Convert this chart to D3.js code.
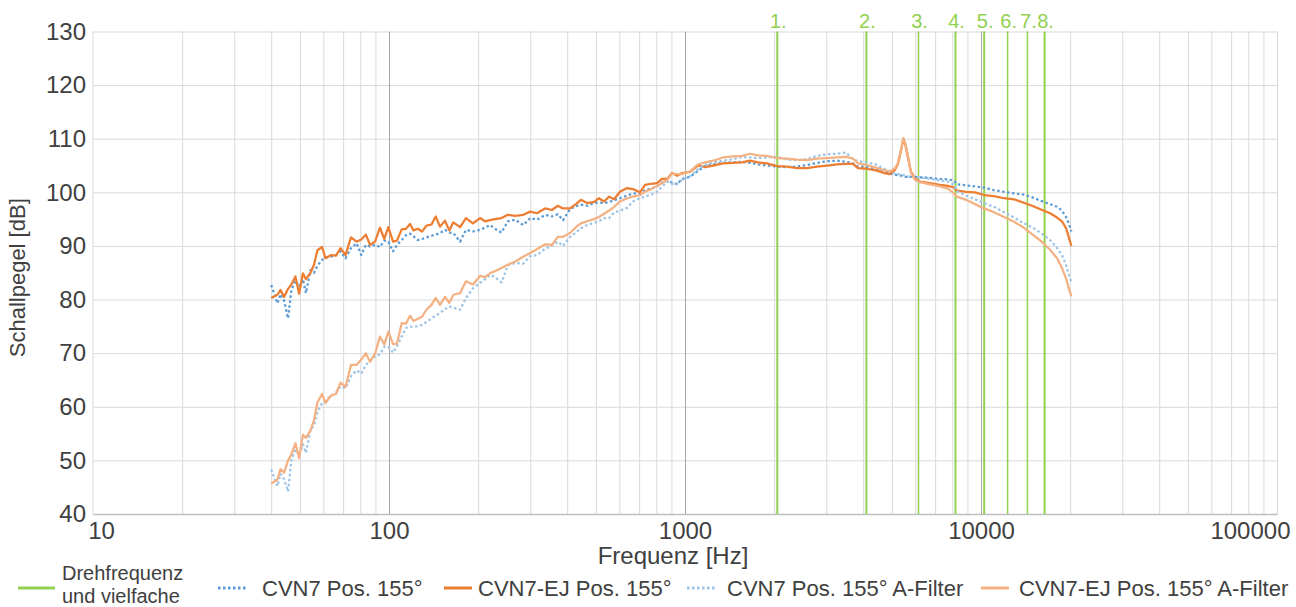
<!DOCTYPE html>
<html>
<head>
<meta charset="utf-8">
<script src="https://cdn.jsdelivr.net/npm/d3@7"></script>
<style>
body { margin: 0; background: #fff; }
svg { display: block; font-family: "Liberation Sans", Arial, sans-serif; }
</style>
</head>
<body>
<svg id="chart" width="1296" height="607"></svg>
<script>
// frequencies [Hz]
var freq = [40, 42, 43, 44.2, 45.6, 46.8, 48.3, 49.7, 51.2, 52.4,
    54.3, 55.8, 57.3, 59.4, 61, 63.7, 66.2, 68.6, 71.3, 74.4,
    77.7, 80.6, 83.5, 86.3, 89.7, 93.2, 96.4, 99.5, 103.2, 106.4,
    110.4, 114.1, 117.8, 121, 125.3, 129.3, 133.9, 139.2, 143.8, 148.7,
    154.6, 159.8, 165, 173.8, 182, 192.2, 203, 211, 219.4, 228,
    240, 252, 267, 284, 300, 316, 337, 355, 372, 387,
    409, 428, 445, 467, 493, 512, 533, 554, 576, 603,
    637, 667, 705, 733, 768, 804, 836, 870, 904, 940,
    977, 1040, 1106, 1168, 1243, 1344, 1453, 1558, 1658, 1764,
    1892, 2046, 2211, 2390, 2584, 2792, 3018, 3263, 3499, 3695,
    3841, 4088, 4419, 4702, 4928, 5122, 5243, 5367, 5466, 5557,
    5667, 5801, 5984, 6221, 6725, 7269, 7735, 8107, 8296, 8898,
    9543, 10235, 11064, 11960, 12930, 13870, 14870, 15950, 17110, 18070,
    18770, 19380, 19830, 20200];

// CVN7 Pos. 155°
var cvn7 = [82.7, 79.3, 81.0, 79.8, 76.5, 81.8, 83.5, 82.4, 83.8, 81.2,
    85.5, 85.0, 86.3, 87.4, 87.8, 88.0, 88.3, 89.0, 87.7, 89.6,
    90.5, 88.3, 90.2, 89.9, 90.2, 89.8, 91.0, 90.8, 89.0, 90.2,
    91.1, 92.0, 92.3, 91.8, 91.1, 91.3, 91.6, 91.9, 92.1, 92.4,
    93.0, 92.5, 92.4, 90.8, 93.0, 92.7, 93.0, 93.4, 93.9, 93.2,
    92.5, 94.6, 94.9, 93.9, 95.2, 94.9, 95.8, 95.5, 95.9, 94.8,
    96.9, 97.4, 97.7, 97.5, 98.0, 98.1, 98.0, 98.2, 98.5, 98.9,
    99.4, 99.8, 99.8, 100.4, 100.7, 101.1, 101.8, 102.2, 101.8, 101.5,
    102.5, 102.9, 104.0, 104.9, 105.2, 105.5, 105.6, 105.7, 105.5, 105.2,
    105.0, 104.8, 104.7, 104.8, 105.1, 105.5, 105.8, 105.9, 105.7, 105.4,
    104.8, 104.8, 104.3, 103.9, 103.5, 103.3, 103.2, 103.1, 103.0, 102.9,
    102.9, 102.9, 102.9, 102.8, 102.7, 102.5, 102.4, 102.2, 101.5, 101.3,
    101.1, 100.9, 100.4, 100.1, 99.8, 99.6, 99.1, 98.4, 97.8, 97.3,
    96.6, 95.4, 94.1, 92.7];

// CVN7-EJ Pos. 155°
var cvn7ej = [80.3, 80.9, 81.8, 80.5, 82.0, 82.8, 84.3, 81.1, 84.9, 83.8,
    85.0, 86.5, 89.2, 89.8, 87.7, 88.3, 88.2, 89.6, 88.3, 91.6,
    90.8, 91.2, 92.1, 90.2, 90.8, 93.4, 91.3, 93.5, 90.8, 91.0,
    93.1, 93.2, 94.1, 92.9, 93.2, 92.7, 93.8, 94.0, 95.5, 93.6,
    94.7, 92.9, 94.4, 93.5, 95.2, 94.2, 95.2, 94.6, 94.8, 95.0,
    95.2, 95.8, 95.6, 95.8, 96.4, 96.1, 97.0, 96.7, 97.5, 97.0,
    97.0, 97.8, 98.6, 98.0, 98.2, 98.9, 98.3, 99.2, 98.7, 100.1,
    100.8, 100.6, 100.0, 101.4, 101.6, 101.7, 102.5, 102.5, 103.6, 103.1,
    103.6, 103.8, 105.0, 104.7, 105.0, 105.4, 105.5, 105.6, 105.9, 105.6,
    105.4, 104.9, 104.8, 104.5, 104.5, 104.8, 105.0, 105.2, 105.3, 105.3,
    104.5, 104.4, 104.1, 103.6, 103.4, 104.2, 105.3, 107.8, 110.0, 108.8,
    106.5, 103.8, 102.6, 102.0, 101.7, 101.4, 101.2, 100.9, 100.3, 100.1,
    100.0, 99.5, 99.3, 98.9, 98.7, 98.1, 97.5, 96.8, 96.1, 95.3,
    94.6, 93.3, 91.5, 90.0];

// CVN7 Pos. 155° A-Filter
var cvn7A = [48.3, 45.2, 47.5, 46.5, 44.2, 50.1, 52.0, 51.0, 53.0, 51.4,
    55.7, 56.5, 59.0, 60.7, 61.2, 62.0, 62.6, 63.8, 63.5, 65.7,
    66.8, 66.2, 67.8, 68.5, 69.4, 69.8, 71.2, 71.2, 70.1, 71.3,
    73.1, 74.7, 74.9, 75.0, 75.0, 75.3, 75.8, 76.5, 77.0, 77.5,
    78.2, 78.7, 78.5, 78.1, 80.3, 82.1, 83.1, 83.8, 84.6, 84.2,
    83.2, 86.4, 86.8, 86.7, 88.1, 88.3, 89.5, 90.0, 90.8, 90.0,
    91.7, 92.5, 93.3, 93.9, 94.3, 94.6, 95.2, 95.2, 96.2, 96.6,
    97.1, 98.3, 98.9, 99.2, 99.6, 100.1, 101.0, 102.0, 101.6, 101.6,
    102.3, 103.0, 104.3, 105.1, 105.6, 105.9, 106.2, 106.6, 106.5, 106.4,
    106.5, 106.6, 106.1, 106.0, 106.2, 106.8, 107.1, 107.2, 107.4, 106.2,
    105.8, 105.6, 105.2, 104.4, 103.8, 103.5, 103.4, 103.3, 103.2, 103.1,
    103.0, 102.9, 102.9, 102.8, 102.5, 102.2, 102.0, 101.4, 100.2, 99.4,
    98.7, 98.0, 97.3, 96.3, 95.3, 94.3, 93.5, 92.4, 91.1, 89.6,
    88.3, 86.5, 84.5, 83.3];

// CVN7-EJ Pos. 155° A-Filter
var cvn7ejA = [45.7, 46.4, 48.4, 47.7, 50.0, 51.1, 53.2, 50.4, 54.8, 54.2,
    55.6, 57.5, 60.8, 62.4, 60.7, 62.1, 62.4, 64.5, 63.7, 67.8,
    67.8, 68.8, 70.0, 68.4, 69.9, 73.1, 71.6, 74.0, 71.7, 71.8,
    75.6, 75.5, 77.0, 76.0, 76.4, 76.8, 78.1, 79.0, 80.3, 79.0,
    80.5, 79.4, 80.9, 81.2, 83.4, 82.8, 84.4, 84.2, 84.9, 85.3,
    85.9, 86.5, 87.1, 88.0, 88.7, 89.4, 90.3, 90.2, 91.7, 91.7,
    92.4, 93.5, 94.2, 94.6, 95.0, 95.4, 96.0, 96.6, 97.3, 98.3,
    98.9, 99.2, 99.5, 100.1, 100.6, 101.2, 101.7, 102.3, 103.5, 103.4,
    103.4, 103.9, 105.2, 105.6, 105.9, 106.5, 106.7, 106.8, 107.2, 106.9,
    106.8, 106.4, 106.3, 106.1, 106.0, 106.3, 106.4, 106.5, 106.6, 106.3,
    105.4, 105.1, 104.6, 104.1, 103.9, 104.5, 105.5, 108.0, 110.1, 109.0,
    106.8, 103.6, 102.3, 101.9, 101.5, 101.1, 100.7, 99.8, 99.2, 98.6,
    97.8, 97.0, 96.3, 95.4, 94.5, 93.5, 92.2, 90.9, 89.3, 87.7,
    85.9, 83.9, 82.0, 80.6];

// Drehfrequenz und vielfache
var harmonicFreq = [2050, 4100, 6150, 8200, 10250, 12300, 14350, 16400];
var harmonicLabels = ["1.", "2.", "3.", "4.", "5.", "6.", "7.", "8."];

var yTicks = [40, 50, 60, 70, 80, 90, 100, 110, 120, 130];
var xTicks = [10, 100, 1000, 10000, 100000];

var seriesNames = ["CVN7 Pos. 155°", "CVN7-EJ Pos. 155°", "CVN7 Pos. 155° A-Filter", "CVN7-EJ Pos. 155° A-Filter"];

var margin = { left: 93, right: 19, top: 31.5, bottom: 93 };
var W = 1296, H = 607;
var width = W - margin.left - margin.right;
var height = H - margin.top - margin.bottom;

var svg = d3.select("#chart");
var g = svg.append("g").attr("transform", "translate(" + margin.left + "," + margin.top + ")");

var x = d3.scaleLog().domain([10, 100000]).range([0, width]);
var y = d3.scaleLinear().domain([40, 130]).range([height, 0]);

// minor vertical grid (2..9 per decade)
var minor = [];
[10, 100, 1000, 10000].forEach(function (d) {
    for (var k = 2; k <= 9; k++) minor.push(d * k);
});
minor.push(100000);

g.append("g")
    .attr("class", "grid-minor")
    .attr("transform", "translate(0," + height + ")")
    .call(d3.axisBottom(x).tickValues(minor).tickSize(-height).tickFormat(""))
    .call(function (s) { s.select(".domain").remove(); })
    .selectAll("line").style("stroke", "#d9d9d9").style("stroke-width", 1);

// horizontal grid + y labels
g.append("g")
    .attr("class", "y-axis")
    .call(d3.axisLeft(y).tickValues(yTicks).tickSize(-width).tickPadding(7))
    .call(function (s) { s.select(".domain").remove(); })
    .call(function (s) {
        s.selectAll("line").style("stroke", "#d9d9d9").style("stroke-width", 1);
        s.selectAll("text").style("font-size", "24px").style("fill", "#404040")
            .attr("font-family", null);
    });

// left edge line
g.append("line")
    .attr("x1", 0).attr("x2", 0).attr("y1", 0).attr("y2", height)
    .style("stroke", "#d9d9d9").style("stroke-width", 1);

// major decade lines
g.append("g")
    .attr("class", "grid-major")
    .attr("transform", "translate(0," + height + ")")
    .call(d3.axisBottom(x).tickValues([100, 1000, 10000]).tickSize(-height).tickFormat(""))
    .call(function (s) { s.select(".domain").remove(); })
    .selectAll("line").style("stroke", "#a6a6a6").style("stroke-width", 1);

// x axis labels
g.append("g")
    .attr("class", "x-axis")
    .attr("transform", "translate(0," + height + ")")
    .call(d3.axisBottom(x).tickValues(xTicks).tickFormat(d3.format("d")).tickSize(0).tickPadding(8))
    .call(function (s) {
        s.select(".domain").style("stroke", "#bfbfbf").style("stroke-width", 1.5);
        s.selectAll("text").style("font-size", "24px").style("fill", "#404040")
            .attr("font-family", null);
        s.selectAll(".tick").filter(function (d) { return d === 10; })
            .select("text").attr("dx", "8");
        s.selectAll(".tick").filter(function (d) { return d === 100000; })
            .select("text").attr("text-anchor", "end").attr("dx", "13");
    });

// harmonic lines
g.append("g").selectAll("line")
    .data(harmonicFreq)
    .join("line")
    .attr("x1", function (d) { return x(d); })
    .attr("x2", function (d) { return x(d); })
    .attr("y1", 0).attr("y2", height)
    .style("stroke", "#92d050")
    .style("stroke-width", function (d, i) { return (i === 2 || i === 5 || i === 6) ? 1.5 : 2; });

g.append("g").selectAll("text")
    .data(harmonicFreq)
    .join("text")
    .attr("x", function (d) { return x(d) + 1; })
    .attr("y", -4)
    .attr("text-anchor", "middle")
    .style("font-size", "20px")
    .style("fill", "#92d050")
    .text(function (d, i) { return harmonicLabels[i]; });

// curves
var series = [
    { values: cvn7, color: "#5b9bd5", dash: "2.5,2.5" },
    { values: cvn7ej, color: "#ed7d31", dash: null },
    { values: cvn7A, color: "#9dc3e6", dash: "2.5,2.5" },
    { values: cvn7ejA, color: "#f4b183", dash: null }
];

var line = d3.line()
    .x(function (d) { return x(d[0]); })
    .y(function (d) { return y(d[1]); });

series.forEach(function (s) {
    var pts = freq.map(function (f, i) { return [f, s.values[i]]; });
    g.append("path")
        .datum(pts)
        .attr("d", line)
        .style("fill", "none")
        .style("stroke", s.color)
        .style("stroke-width", 2.25)
        .style("stroke-linejoin", "round")
        .style("stroke-dasharray", s.dash);
});

// axis titles
svg.append("text")
    .attr("x", margin.left + width / 2 - 12)
    .attr("y", 564)
    .attr("text-anchor", "middle")
    .style("font-size", "24px")
    .style("fill", "#404040")
    .text("Frequenz [Hz]");

svg.append("text")
    .attr("transform", "translate(25," + (margin.top + height / 2 + 5) + ") rotate(-90)")
    .attr("text-anchor", "middle")
    .style("font-size", "22px")
    .style("fill", "#404040")
    .text("Schallpegel [dB]");

// legend
var legend = svg.append("g").style("font-size", "22px").style("fill", "#404040");
var legY = 588;

legend.append("line")
    .attr("x1", 18).attr("x2", 55).attr("y1", legY).attr("y2", legY)
    .style("stroke", "#92d050").style("stroke-width", 3);
legend.append("text").attr("x", 62).attr("y", 580).style("font-size", "20px").text("Drehfrequenz");
legend.append("text").attr("x", 62).attr("y", 603).style("font-size", "20px").text("und vielfache");

var swatchX = [218, 444, 687, 981];
var textX = [262, 478, 727, 1019];
series.forEach(function (s, i) {
    legend.append("line")
        .attr("x1", swatchX[i]).attr("x2", swatchX[i] + 28)
        .attr("y1", legY).attr("y2", legY)
        .style("stroke", s.color).style("stroke-width", 3)
        .style("stroke-dasharray", s.dash);
    legend.append("text")
        .attr("x", textX[i])
        .attr("y", legY + 8)
        .text(seriesNames[i]);
});
</script>
</body>
</html>
